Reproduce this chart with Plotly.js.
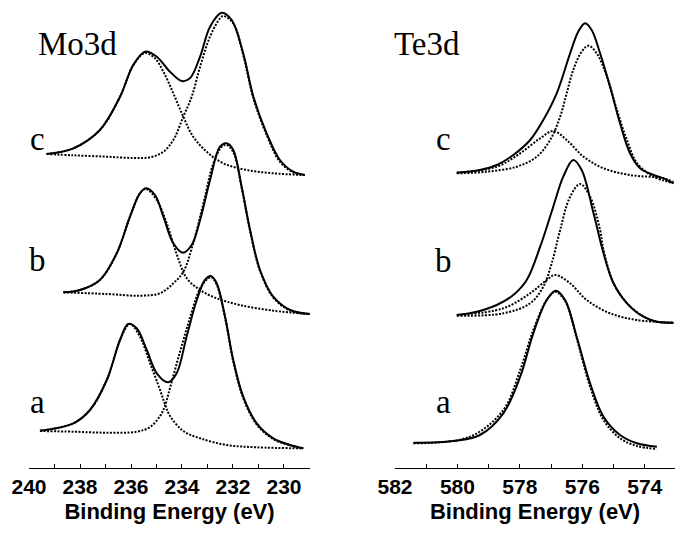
<!DOCTYPE html>
<html>
<head>
<meta charset="utf-8">
<script src="https://cdn.plot.ly/plotly-3.0.1.min.js"></script>
<style>html,body{margin:0;padding:0;background:#fff;}#chart{width:675px;height:533px;}</style>
</head>
<body>
<div id="chart"></div>
<script>
// ---------- Mo3d panel (binding energy eV, intensity a.u.) ----------
var moC_totE = [239.31,238.26,237.22,236.43,235.91,235.45,234.99,234.47,234.01,233.69,233.29,232.90,232.44,232.05,231.60,231.20,230.68,230.16,229.64,229.18];
var moC_totI = [314,319.7,338,371.3,403,416.3,411.3,396.3,387,389.7,411.3,441.3,455.3,448,414.7,371.3,334.7,308,296.3,293];
var moC_p1E = [239.31,238.26,236.95,235.91,235.25,234.73,234.34,233.95,233.62,233.29,232.90,232.51,232.38,231.99,231.60,231.20,230.68,230.16,229.64,229.18];
var moC_p1I = [314,312.7,311.3,310,310.7,316.3,328,351.3,371.3,401.3,431.3,449.7,452,444.7,413,369.7,333,306.3,295.7,293];
var moC_p2E = [239.31,238.26,237.22,236.43,235.91,235.45,235.06,234.73,234.34,233.95,233.56,233.03,232.38,231.46,230.42,229.18];
var moC_p2I = [314,319.7,338,371.3,403,415,409.7,396.3,374.7,351.3,331.3,316.3,304.7,298,294.7,293];

var moB_totE = [238.65,238.0,237.22,236.56,236.04,235.65,235.41,235.06,234.73,234.34,233.97,233.62,233.29,232.90,232.51,232.25,231.99,231.66,231.33,230.94,230.42,229.76,228.98];
var moB_totI = [175.7,178,188,214.7,251.3,274.7,279.7,273,251.3,224.7,215.3,223,248,288,321.3,324.7,318,281.3,238,198,171.3,158,154];
var moB_p1E = [238.65,236.95,235.65,234.86,234.34,233.95,233.56,233.16,232.77,232.44,232.25,231.99,231.66,231.33,230.94,230.42,229.76,228.98];
var moB_p1I = [175.7,174,172.3,174.7,184.7,196,224.7,264.7,304.7,321.3,323,316,280,237,197,170.5,157.5,154];
var moB_p2E = [238.65,238.0,237.22,236.56,236.04,235.65,235.41,234.99,234.60,234.21,233.82,233.29,232.64,231.73,230.42,228.98];
var moB_p2I = [175.7,178,188,214.7,251.3,274.7,279,268,244.7,214,190,178,169.7,163,157.3,154];

var moA_totE = [239.57,238.26,237.61,236.95,236.43,236.11,235.78,235.38,234.99,234.54,234.21,233.82,233.42,233.10,232.87,232.64,232.31,231.99,231.60,231.07,230.42,229.76,229.24];
var moA_totI = [37.3,44.7,58,88,128,144,139.7,118,94.7,85.7,94.7,131.3,168,188,192,184.7,151.3,108,71.3,44.7,29.7,23,19.7];
var moA_p1E = [239.57,238.26,236.95,235.78,235.25,234.86,234.67,234.47,234.08,233.69,233.29,232.97,232.84,232.64,232.31,231.99,231.60,231.07,230.42,229.76,229.24];
var moA_p1I = [37,36.3,35.3,36.3,41,52,62,80,116,150,179.7,189.7,190.7,183.5,150,106.5,70,43.5,29,22.7,19.7];
var moA_p2E = [239.57,238.26,237.61,236.95,236.43,236.04,235.65,235.25,234.86,234.67,234.47,233.95,233.29,232.25,231.07,229.24];
var moA_p2I = [37.3,44.7,58,88,128,144,131.3,104.7,78,64,52,37,29.7,23,20.7,19.7];

// ---------- Te3d panel ----------
var teC_totE = [580.02,579.28,578.74,578.21,577.67,577.25,576.82,576.39,576.13,575.91,575.70,575.43,575.11,574.79,574.47,574.15,573.72,573.40,573.08];
var teC_totI = [295.3,298,303,313,328,348,374.7,414.7,436.3,444.7,438,414.7,381.3,344.7,314.7,299.7,293,289.7,284.7];
var teC_p1E = [580.02,579.06,578.10,577.46,577.03,576.71,576.50,576.29,576.02,575.80,575.54,575.21,574.89,574.57,574.25,573.72,573.08];
var teC_p1I = [294.7,296.3,301.3,311.3,328,351.3,374.7,398,416.3,422.3,414.7,391.3,358,328,305,291.3,285];
var teC_p2E = [580.02,578.74,577.99,577.35,576.93,576.50,575.96,575.32,574.47,573.40,573.08];
var teC_p2I = [295.3,301.3,314.7,329.7,337,328,311.3,299.7,293,289.7,286];

var teB_totE = [580.02,579.38,578.74,578.21,577.78,577.35,576.93,576.61,576.29,576.02,575.64,575.32,575.00,574.57,574.04,573.61,573.08];
var teB_totI = [153,156.3,163,173,188,221.3,261.3,291.3,308,298,254.7,214.7,184.7,164.7,151.3,146.3,145.3];
var teB_p1E = [580.02,578.53,577.67,577.25,576.98,576.71,576.39,576.07,575.75,575.43,575.32,575.00,574.57,574.04,573.61,573.08];
var teB_p1I = [152.3,154.7,164.7,181.3,204.7,238,271.3,284,271.3,238,218,185,165,151.5,146.3,145.3];
var teB_p2E = [580.02,578.53,577.67,577.14,576.87,576.39,575.86,575.11,574.25,573.08];
var teB_p2I = [153,159.7,174.7,188,193,184.7,168,154.7,148,145.3];

var teA_totE = [581.41,580.13,579.28,578.53,577.99,577.57,577.14,576.85,576.55,576.18,575.75,575.32,574.79,574.25,573.61];
var teA_totI = [25.3,27,33,54.7,91.3,134.7,168,177.3,168,131.3,84.7,51.3,33,24.7,21.3];
var teA_p1E = [581.41,579.60,578.53,577.99,577.57,577.14,576.87,576.55,576.18,575.75,575.32,574.79,574.25,573.61];
var teA_p1I = [24.7,31.3,58,98,138,168,176.3,167,129.7,81.3,48,29.7,22,19];

// ---------- axis ticks ----------
var moTickVals = [240,239,238,237,236,235,234,233,232,231,230,229];
var moTickText = ['240','','238','','236','','234','','232','','230',''];
var teTickVals = [582,581,580,579,578,577,576,575,574,573];
var teTickText = ['582','','580','','578','','576','','574',''];

function tr(x, y, xa, dotted) {
  return {
    type: 'scatter', mode: 'lines', x: x, y: y, xaxis: xa, yaxis: 'y',
    hoverinfo: 'skip',
    line: dotted ? {color: '#000', width: 2, dash: '2px,1.5px', shape: 'spline', smoothing: 1}
                 : {color: '#000', width: 2, shape: 'spline', smoothing: 1}
  };
}

var data = [
  tr(moC_p1E, moC_p1I, 'x', true), tr(moC_p2E, moC_p2I, 'x', true), tr(moC_totE, moC_totI, 'x', false),
  tr(moB_p1E, moB_p1I, 'x', true), tr(moB_p2E, moB_p2I, 'x', true), tr(moB_totE, moB_totI, 'x', false),
  tr(moA_p1E, moA_p1I, 'x', true), tr(moA_p2E, moA_p2I, 'x', true), tr(moA_totE, moA_totI, 'x', false),
  tr(teC_p1E, teC_p1I, 'x2', true), tr(teC_p2E, teC_p2I, 'x2', true), tr(teC_totE, teC_totI, 'x2', false),
  tr(teB_p1E, teB_p1I, 'x2', true), tr(teB_p2E, teB_p2I, 'x2', true), tr(teB_totE, teB_totI, 'x2', false),
  tr(teA_p1E, teA_p1I, 'x2', true), tr(teA_totE, teA_totI, 'x2', false)
];

var tickFont = {family: 'Arial, "Liberation Sans", sans-serif', size: 21, weight: 'bold', color: '#000'};
var titleFont = {family: 'Arial, "Liberation Sans", sans-serif', size: 22, weight: 'bold', color: '#000'};

function xax(domain, range, tv, tt) {
  return {
    domain: domain, range: range, anchor: 'y',
    showgrid: false, zeroline: false, showline: true, linecolor: '#000', linewidth: 1,
    ticks: 'inside', ticklen: 4, tickwidth: 1, tickcolor: '#000',
    tickmode: 'array', tickvals: tv, ticktext: tt, tickfont: tickFont,
    title: {text: 'Binding Energy (eV)', font: titleFont, standoff: 6},
    automargin: false, fixedrange: true
  };
}

var serif = {family: '"Times New Roman", "Liberation Serif", serif', size: 33, color: '#000'};
function lab(t, px, py, xanchor) {
  return {text: t, xref: 'paper', yref: 'paper', x: px / 675, y: (468 - py) / 468,
          xanchor: xanchor, yanchor: 'middle', showarrow: false, font: serif};
}

var layout = {
  width: 675, height: 533,
  margin: {l: 0, r: 0, t: 0, b: 65, pad: 0},
  paper_bgcolor: '#fff', plot_bgcolor: '#fff',
  showlegend: false,
  xaxis: xax([29 / 675, 310 / 675], [240, 228.98], moTickVals, moTickText),
  xaxis2: xax([395 / 675, 1], [582, 573.03], teTickVals, teTickText),
  yaxis: {domain: [0, 1], range: [0, 468], visible: false, fixedrange: true},
  annotations: [
    lab('Mo3d', 36, 43.9, 'left'),
    lab('Te3d', 391.7, 43.9, 'left'),
    lab('c', 37, 138.9, 'center'),
    lab('b', 37, 259.9, 'center'),
    lab('a', 37, 401.9, 'center'),
    lab('c', 443.5, 138.9, 'center'),
    lab('b', 443.5, 260.9, 'center'),
    lab('a', 443.5, 401.9, 'center')
  ]
};

Plotly.newPlot('chart', data, layout, {staticPlot: true, displayModeBar: false});
</script>
</body>
</html>
